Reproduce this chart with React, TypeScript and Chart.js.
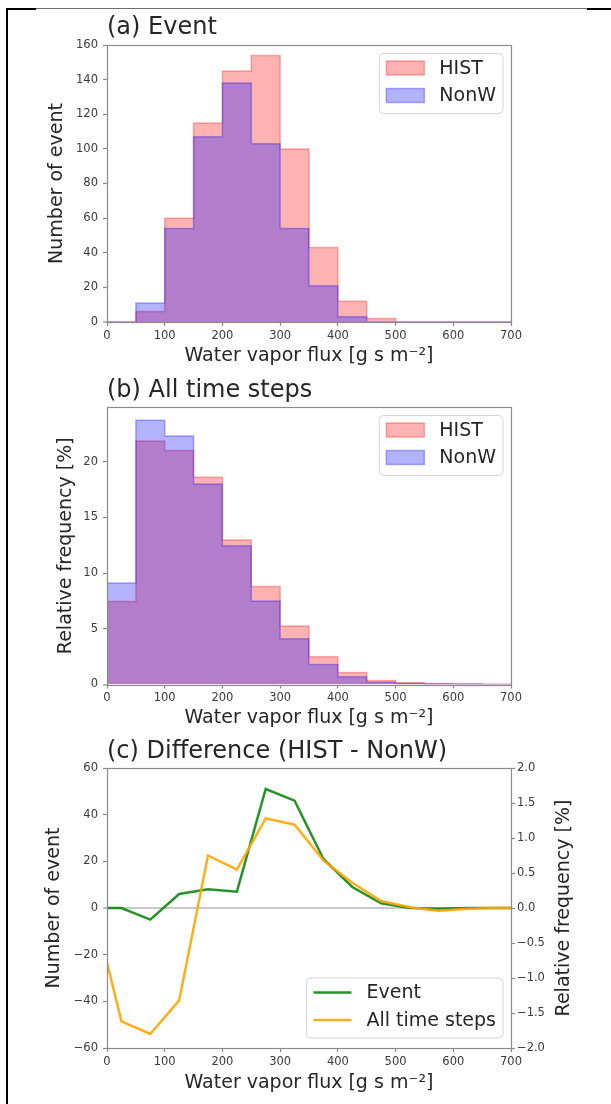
import React, { useEffect, useRef } from "react";
import { Chart, registerables } from "chart.js";

Chart.register(...registerables);

// ---------------- data ----------------
const binEdges = [0, 50, 100, 150, 200, 250, 300, 350, 400, 450, 500, 550, 600, 650, 700];
const eventHist = [0, 6, 60, 115, 145, 154, 100, 43, 12, 2, 0, 0, 0, 0];
const eventNonW = [0, 11, 54, 107, 138, 103, 54, 21, 3, 0, 0, 0, 0, 0];
const allHist = [7.45, 21.85, 21.0, 18.6, 12.97, 8.8, 5.25, 2.5, 1.07, 0.36, 0.15, 0.1, 0.05, 0.02];
const allNonW = [9.1, 23.7, 22.3, 18.0, 12.45, 7.5, 4.1, 1.8, 0.7, 0.2, 0.1, 0.05, 0.05, 0.0];
const diffX = [0, 25, 75, 125, 175, 225, 275, 325, 375, 425, 475, 525, 575, 625, 675, 700];
const diffEvent = [0, 0, -5, 6, 8, 7, 51, 46, 21, 9, 2, 0, -0.3, 0, 0, 0];
const diffAll = [-0.78, -1.62, -1.8, -1.32, 0.75, 0.55, 1.28, 1.19, 0.68, 0.36, 0.1, 0.01, -0.04, -0.01, 0, 0];

const xTicks = [0, 100, 200, 300, 400, 500, 600, 700];
const yTicksA = [0, 20, 40, 60, 80, 100, 120, 140, 160];
const yTicksB = [0, 5, 10, 15, 20];
const yTicksCLeft = [-60, -40, -20, 0, 20, 40, 60];
const yTicksCRight = [-2, -1.5, -1, -0.5, 0, 0.5, 1, 1.5, 2];

const xLabel = "Water vapor flux [g s m\u207B\u00B2]";
const labelEvent = "Number of event";
const labelFreq = "Relative frequency [%]";

// ---------------- styles ----------------
const FONT = "'DejaVu Sans', sans-serif";
const TEXT = "#262626";
const TICKTXT = "#3a3a3a";
const SPINE = "#8a8a8a";
const HIST_FILL = "rgba(255,0,0,0.3)";
const HIST_EDGE = "rgba(255,0,0,0.3)";
const NONW_FILL = "rgba(0,0,255,0.3)";
const NONW_EDGE = "rgba(0,0,255,0.3)";
const GREEN = "rgba(0,128,0,0.85)";
const ORANGE = "rgba(255,165,0,0.9)";

const tickFont = { family: FONT, size: 11.5 };
const labelFont = { family: FONT, size: 19, lineHeight: 1, weight: "normal" };
const titleFont = { family: FONT, size: 24, lineHeight: 1, weight: "normal" };

const minus = (s: string) => s.replace("-", "\u2212");

function stepData(counts: number[]) {
  const last = binEdges[binEdges.length - 1];
  const pts = [{ x: binEdges[0], y: 0 }];
  counts.forEach((c, i) => pts.push({ x: binEdges[i], y: c }));
  pts.push({ x: last, y: counts[counts.length - 1] });
  pts.push({ x: last, y: 0 });
  return pts;
}

function xScale(height: number, titlePad: number) {
  return {
    type: "linear",
    min: 0,
    max: 700,
    afterBuildTicks: (s: any) => {
      s.ticks = xTicks.map((v) => ({ value: v }));
    },
    afterFit: (s: any) => {
      s.height = height;
    },
    grid: { display: true, drawOnChartArea: false, drawTicks: true, tickLength: 4, tickColor: SPINE, tickWidth: 1.2 },
    border: { display: false },
    ticks: { font: tickFont, color: TICKTXT, padding: 3, maxRotation: 0, autoSkip: false, callback: (v: any) => minus(String(v)) },
    title: { display: true, text: xLabel, font: labelFont, color: TEXT, padding: { top: 0, bottom: titlePad } },
  };
}

function yLeftScale(min: number, max: number, ticks: number[], title: string, titlePad: number, zeroLine = false) {
  return {
    type: "linear",
    position: "left",
    min,
    max,
    afterBuildTicks: (s: any) => {
      s.ticks = ticks.map((v) => ({ value: v }));
    },
    afterFit: (s: any) => {
      s.width = 107;
    },
    grid: {
      display: true,
      drawOnChartArea: zeroLine,
      drawTicks: true,
      tickLength: 4,
      tickColor: SPINE,
      tickWidth: 1.2,
      color: (ctx: any) => (zeroLine && ctx.tick && ctx.tick.value === 0 ? "#c8c8c8" : "rgba(0,0,0,0)"),
      lineWidth: (ctx: any) => (ctx.tick && ctx.tick.value === 0 ? 2 : 1),
    },
    border: { display: false },
    ticks: { font: tickFont, color: TICKTXT, padding: 5, autoSkip: false, callback: (v: any) => minus(String(v)) },
    title: { display: true, text: title, font: labelFont, color: TEXT, padding: { top: titlePad, bottom: 0 } },
  };
}

// frame (spines) plugin
const framePlugin = {
  id: "frame",
  afterDatasetsDraw(chart: any) {
    const { ctx, chartArea: a } = chart;
    ctx.save();
    ctx.strokeStyle = SPINE;
    ctx.lineWidth = 1.2;
    ctx.strokeRect(Math.round(a.left) + 0.5, Math.round(a.top) + 0.5, Math.round(a.right - a.left), Math.round(a.bottom - a.top));
    ctx.restore();
  },
};

function legendPlugin(kind: "patch" | "line", anchor: "top" | "bottom") {
  return {
    id: "boxLegend",
    afterDraw(chart: any) {
      const { ctx, chartArea: a } = chart;
      const ds = chart.data.datasets;
      ctx.save();
      ctx.font = `19px ${FONT}`;
      const textW = Math.max(...ds.map((d: any) => ctx.measureText(d.label).width));
      const pad = 7;
      const handleW = 38;
      const gap = 15;
      const h = 60;
      const w = pad + handleW + gap + textW + pad;
      const right = a.right - 8;
      const left = right - w;
      const top = anchor === "top" ? a.top + 8.5 : a.bottom - 10 - h;
      // box
      ctx.beginPath();
      const r = 4;
      ctx.moveTo(left + r, top);
      ctx.lineTo(right - r, top);
      ctx.quadraticCurveTo(right, top, right, top + r);
      ctx.lineTo(right, top + h - r);
      ctx.quadraticCurveTo(right, top + h, right - r, top + h);
      ctx.lineTo(left + r, top + h);
      ctx.quadraticCurveTo(left, top + h, left, top + h - r);
      ctx.lineTo(left, top + r);
      ctx.quadraticCurveTo(left, top, left + r, top);
      ctx.closePath();
      ctx.fillStyle = "rgba(255,255,255,0.8)";
      ctx.fill();
      ctx.strokeStyle = "rgba(204,204,204,0.8)";
      ctx.lineWidth = 1;
      ctx.stroke();
      ds.forEach((d: any, i: number) => {
        const cy = top + 14.5 + i * 27.5;
        const hx = left + pad;
        if (kind === "patch") {
          ctx.fillStyle = d.backgroundColor;
          ctx.fillRect(hx, cy - 7, handleW, 14);
          ctx.strokeStyle = d.borderColor;
          ctx.lineWidth = 1.5;
          ctx.strokeRect(hx, cy - 7, handleW, 14);
        } else {
          ctx.strokeStyle = d.borderColor;
          ctx.lineWidth = d.borderWidth;
          ctx.beginPath();
          ctx.moveTo(hx, cy);
          ctx.lineTo(hx + handleW, cy);
          ctx.stroke();
        }
        ctx.fillStyle = TEXT;
        ctx.textAlign = "left";
        ctx.textBaseline = "middle";
        ctx.fillText(d.label, hx + handleW + gap, cy + 1);
      });
      ctx.restore();
    },
  };
}

const rightTitlePlugin = {
  id: "rightTitle",
  afterDraw(chart: any) {
    const { ctx, chartArea: a } = chart;
    ctx.save();
    ctx.font = `19px ${FONT}`;
    ctx.fillStyle = TEXT;
    ctx.textAlign = "center";
    ctx.textBaseline = "middle";
    ctx.translate(564, (a.top + a.bottom) / 2);
    ctx.rotate(-Math.PI / 2);
    ctx.fillText(labelFreq, 0, 0);
    ctx.restore();
  },
};

function histConfig(hist: number[], nonw: number[], title: string, yMax: number, yTicks: number[], yTitle: string, opts: any) {
  return {
    type: "line",
    data: {
      datasets: [
        { label: "HIST", data: stepData(hist), stepped: true, fill: "origin", backgroundColor: HIST_FILL, borderColor: HIST_EDGE, borderWidth: 1.5, pointRadius: 0, order: 2 },
        { label: "NonW", data: stepData(nonw), stepped: true, fill: "origin", backgroundColor: NONW_FILL, borderColor: NONW_EDGE, borderWidth: 1.5, pointRadius: 0, order: 1 },
      ],
    },
    options: {
      responsive: false,
      animation: false,
      events: [],
      layout: { padding: { left: 0, right: 100, top: 0, bottom: 0 } },
      scales: {
        x: xScale(opts.xHeight, opts.xTitlePad),
        y: yLeftScale(0, yMax, yTicks, yTitle, opts.yTitlePad),
      },
      plugins: {
        legend: { display: false },
        tooltip: { enabled: false },
        title: { display: true, text: title, align: "start", fullSize: false, font: titleFont, color: TEXT, padding: { top: opts.tTop, bottom: opts.tBottom } },
      },
    },
    plugins: [framePlugin, legendPlugin("patch", "top")],
  } as any;
}

function diffConfig() {
  const yRight: any = {
    type: "linear",
    position: "right",
    min: -2,
    max: 2,
    afterBuildTicks: (s: any) => {
      s.ticks = yTicksCRight.map((v) => ({ value: v }));
    },
    afterFit: (s: any) => {
      s.width = 100;
    },
    grid: { display: true, drawOnChartArea: false, drawTicks: true, tickLength: 4, tickColor: SPINE, tickWidth: 1.2 },
    border: { display: false },
    ticks: { font: tickFont, color: TICKTXT, padding: 2, autoSkip: false, callback: (v: any) => minus(Number(v).toFixed(1)) },
  };
  return {
    type: "line",
    data: {
      datasets: [
        { label: "Event", data: diffX.map((x, i) => ({ x, y: diffEvent[i] })), yAxisID: "y", borderColor: GREEN, backgroundColor: GREEN, borderWidth: 2.5, pointRadius: 0, tension: 0, fill: false, order: 1 },
        { label: "All time steps", data: diffX.map((x, i) => ({ x, y: diffAll[i] })), yAxisID: "y1", borderColor: ORANGE, backgroundColor: ORANGE, borderWidth: 2.5, pointRadius: 0, tension: 0, fill: false, order: 0 },
      ],
    },
    options: {
      responsive: false,
      animation: false,
      events: [],
      layout: { padding: { left: 0, right: 0, top: 0, bottom: 0 } },
      scales: {
        x: xScale(56, 11.5),
        y: yLeftScale(-60, 60, yTicksCLeft, labelEvent, 44.5, true),
        y1: yRight,
      },
      plugins: {
        legend: { display: false },
        tooltip: { enabled: false },
        title: { display: true, text: "(c) Difference (HIST - NonW)", align: "start", fullSize: false, font: titleFont, color: TEXT, padding: { top: 4, bottom: 4 } },
      },
    },
    plugins: [framePlugin, legendPlugin("line", "bottom"), rightTitlePlugin],
  } as any;
}

export default function App() {
  const refA = useRef<HTMLCanvasElement>(null);
  const refB = useRef<HTMLCanvasElement>(null);
  const refC = useRef<HTMLCanvasElement>(null);

  useEffect(() => {
    Chart.defaults.font.family = FONT;
    const charts = [
      new Chart(refA.current as HTMLCanvasElement, histConfig(eventHist, eventNonW, "(a) Event", 160, yTicksA, labelEvent, { xHeight: 46, xTitlePad: 2.5, yTitlePad: 48, tTop: 16, tBottom: 5 })),
      new Chart(refB.current as HTMLCanvasElement, histConfig(allHist, allNonW, "(b) All time steps", 24.9, yTicksB, labelFreq, { xHeight: 51.5, xTitlePad: 8.5, yTitlePad: 56.5, tTop: 11, tBottom: 4 })),
      new Chart(refC.current as HTMLCanvasElement, diffConfig()),
    ];
    return () => charts.forEach((c) => c.destroy());
  }, []);

  return (
    <div style={{ position: "absolute", left: 0, top: 0, width: 611, height: 1104, background: "#fff", overflow: "hidden" }}>
      <canvas ref={refA} width={611} height={368} style={{ position: "absolute", left: 0, top: 0, width: 611, height: 368 }} />
      <canvas ref={refB} width={611} height={368} style={{ position: "absolute", left: 0, top: 368, width: 611, height: 368 }} />
      <canvas ref={refC} width={611} height={368} style={{ position: "absolute", left: 0, top: 736, width: 611, height: 368 }} />
      <div style={{ position: "absolute", left: 6, top: 8, width: 2, height: 1096, background: "#000" }} />
      <div style={{ position: "absolute", left: 6, top: 8, width: 30, height: 2, background: "#000" }} />
      <div style={{ position: "absolute", left: 36, top: 8, width: 551, height: 1, background: "#6e6e6e" }} />
      <div style={{ position: "absolute", left: 587, top: 8, width: 24, height: 2, background: "#000" }} />
    </div>
  );
}
